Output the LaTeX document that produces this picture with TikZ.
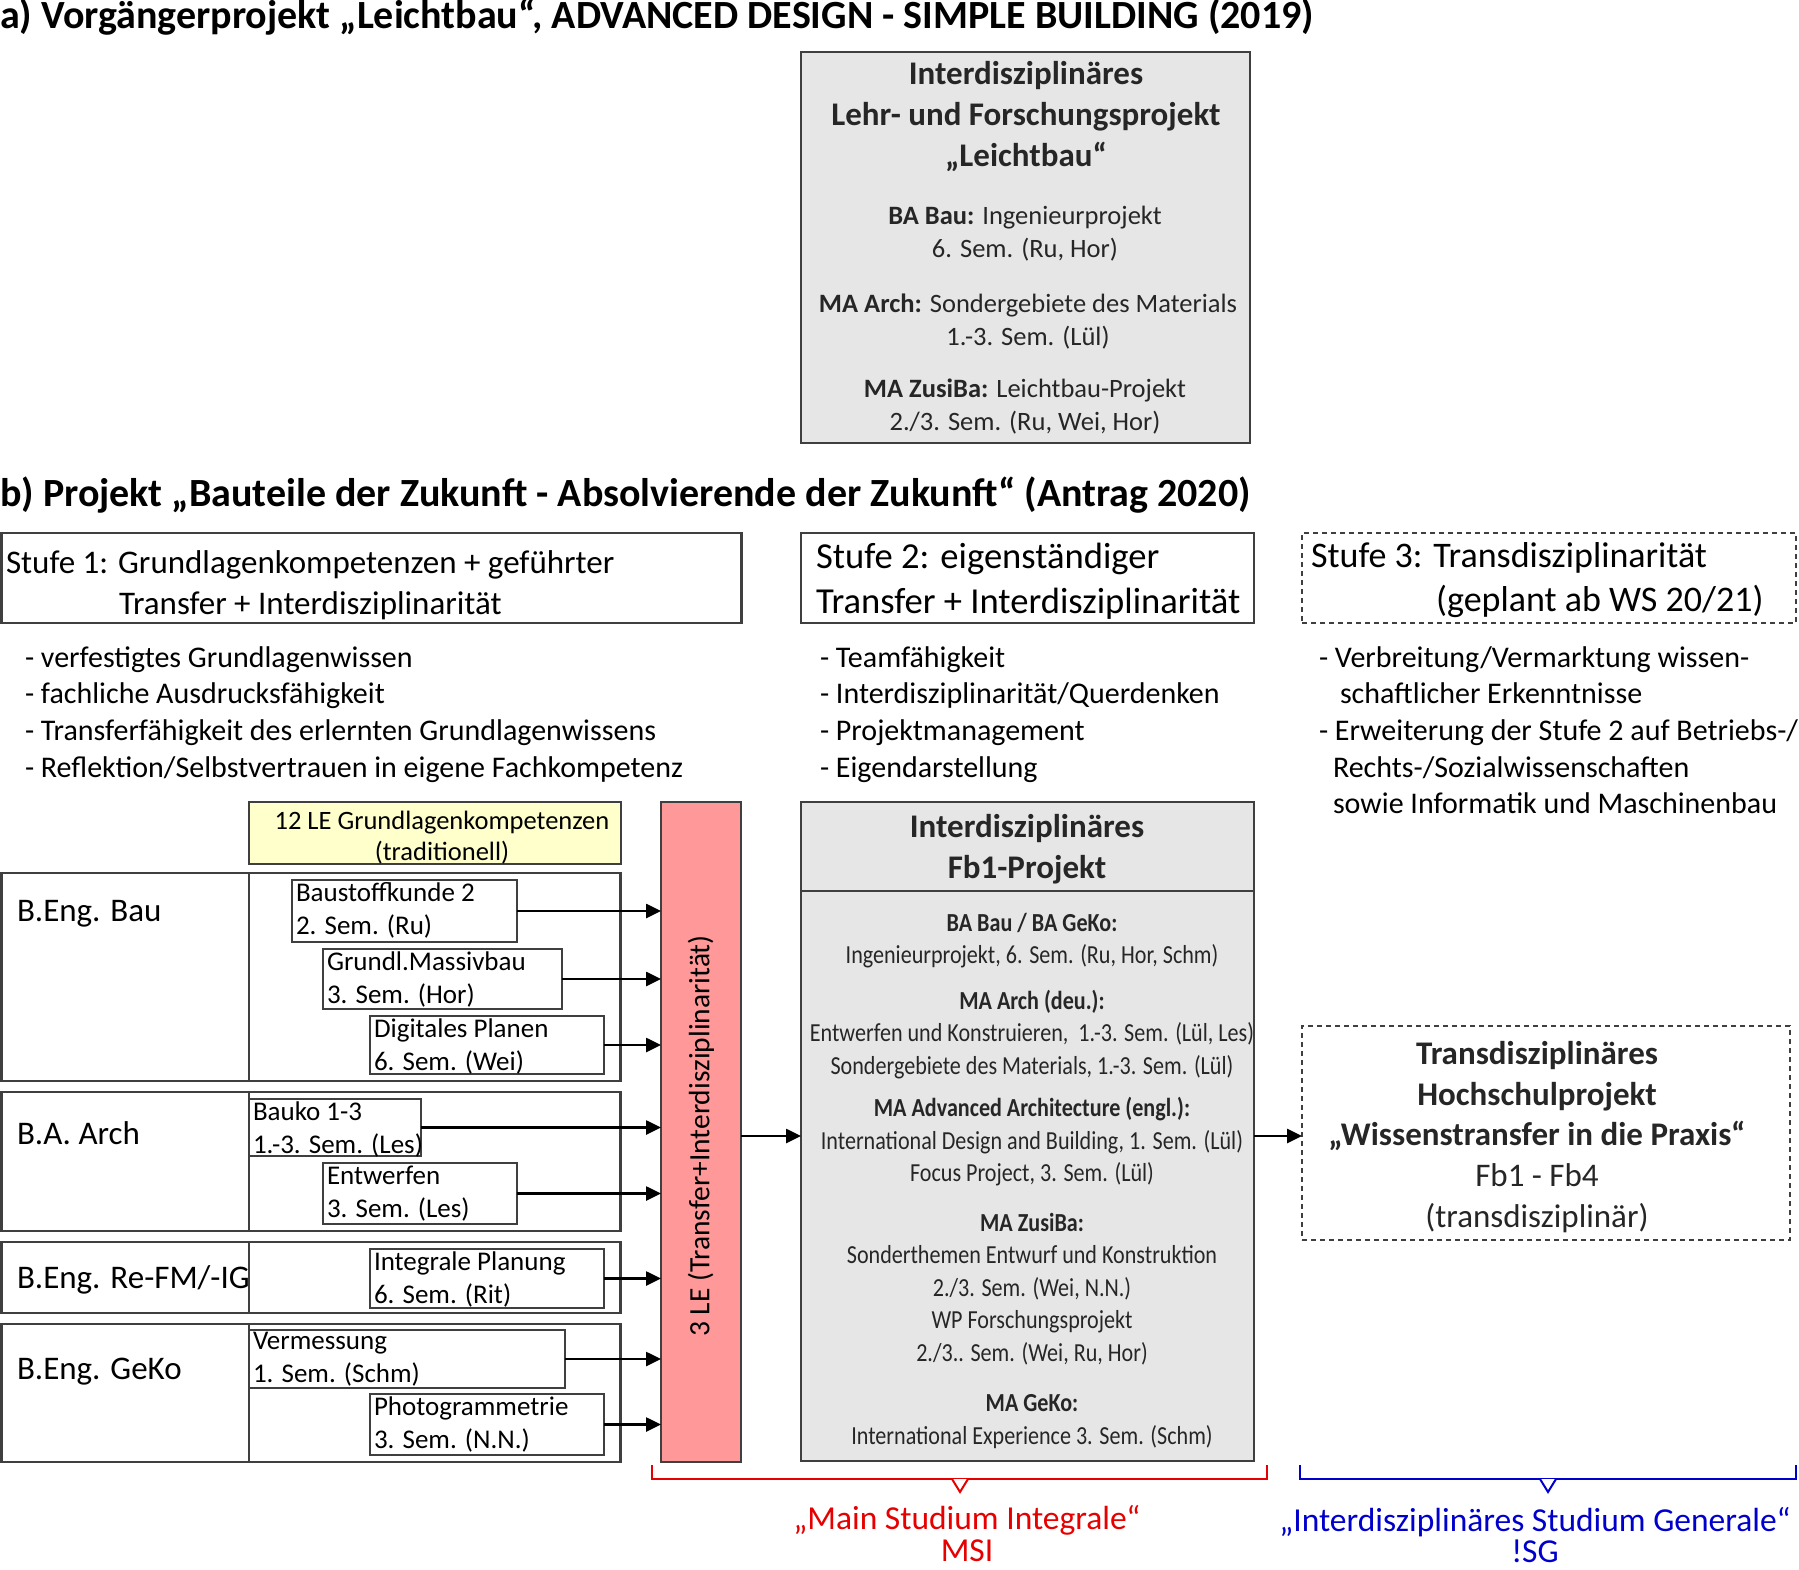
\documentclass[tikz,border=0pt]{standalone}
\usepackage{fontspec}
\setmainfont{Carlito}
\newfontfamily\condfont[FakeStretch=0.85]{Carlito}
\usetikzlibrary{arrows.meta}
\definecolor{bordc}{HTML}{3F3F3F}
\definecolor{grayfill}{HTML}{E6E6E6}
\definecolor{yellowfill}{HTML}{FFFFCC}
\definecolor{redfill}{HTML}{FF9999}
\definecolor{txtgray}{HTML}{262626}
\definecolor{msired}{HTML}{E60000}
\definecolor{isgblue}{HTML}{0000CC}
\newcommand\fs[2]{\fontsize{#1}{#2}\selectfont}
\begin{document}
\begin{tikzpicture}[x=1pt,y=-1pt,
  every node/.style={inner sep=0pt, outer sep=0pt},
  box/.style={draw=bordc, line width=2.8pt, anchor=north west},
  dbox/.style={draw=bordc, line width=2.6pt, dash pattern=on 5pt off 4pt, anchor=north west},
  cbox/.style={draw=bordc, line width=2.4pt, fill=white, anchor=north west},
  ctext/.style={font=\fs{27}{33}, align=left, anchor=north west, execute at begin node=\strut},
  blk/.style={align=center, anchor=north, execute at begin node=\strut},
  lblk/.style={align=left, anchor=north west, execute at begin node=\strut},
  arr/.style={line width=2.6pt, -{Triangle[length=15pt,width=14pt]}},
  brk/.style={line width=2.6pt}
]
\useasboundingbox (0,0) rectangle (1799,1570);

% ---------- a) ----------
\node[anchor=base west, font=\bfseries\fs{40}{48}] (ta) at (0,29)
  {a) Vorgängerprojekt „Leichtbau“, ADVANCED DESIGN - SIMPLE BUILDING (2019)};

\node[box, fill=grayfill, minimum width=449pt, minimum height=391pt] (lb) at (801,52) {};
\node[blk, font=\bfseries\fs{33}{41}, text=txtgray] (lbh) at (1026,61.2)
  {Interdisziplinäres\\Lehr- und Forschungsprojekt\\„Leichtbau“};
\node[blk, font=\fs{26.5}{33}, text=txtgray] (lb1) at (1025,206)
  {\textbf{BA Bau:} Ingenieurprojekt\\6. Sem. (Ru, Hor)};
\node[blk, font=\fs{26.5}{33}, text=txtgray] (lb2) at (1028,293.6)
  {\textbf{MA Arch:} Sondergebiete des Materials\\1.-3. Sem. (Lül)};
\node[blk, font=\fs{26.5}{33}, text=txtgray] (lb3) at (1025,378.6)
  {\textbf{MA ZusiBa:} Leichtbau-Projekt\\2./3. Sem. (Ru, Wei, Hor)};

% ---------- b) ----------
\node[anchor=base west, font=\bfseries\fs{40}{48}] (tb) at (0,506)
  {b) Projekt „Bauteile der Zukunft - Absolvierende der Zukunft“ (Antrag 2020)};

\node[box, minimum width=740pt, minimum height=90pt] (s1) at (1.5,533) {};
\node[lblk, font=\fs{33}{41}] (s1t) at (6,551)
  {Stufe 1: Grundlagenkompetenzen + geführter\\\hspace*{113pt}Transfer + Interdisziplinarität};
\node[box, minimum width=453pt, minimum height=90pt] (s2) at (801,533) {};
\node[lblk, font=\fs{36.6}{45}] (s2t) at (816,543.4)
  {Stufe 2: eigenständiger\\Transfer + Interdisziplinarität};
\node[dbox, minimum width=494pt, minimum height=90pt] (s3) at (1302,533) {};
\node[lblk, font=\fs{36}{44}] (s3t) at (1311,542.9)
  {Stufe 3: Transdisziplinarität\\\hspace*{125pt}(geplant ab WS 20/21)};

\node[lblk, font=\fs{30}{36.7}] (l1) at (25,646.2)
  {- verfestigtes Grundlagenwissen\\- fachliche Ausdrucksfähigkeit\\- Transferfähigkeit des erlernten Grundlagenwissens\\- Reflektion/Selbstvertrauen in eigene Fachkompetenz};
\node[lblk, font=\fs{30}{36.7}] (l2) at (820,646.2)
  {- Teamfähigkeit\\- Interdisziplinarität/Querdenken\\- Projektmanagement\\- Eigendarstellung};
\node[lblk, font=\fs{30}{36.7}] (l3) at (1319,646.2)
  {- Verbreitung/Vermarktung wissen-\\\hspace*{21pt}schaftlicher Erkenntnisse\\- Erweiterung der Stufe 2 auf Betriebs-/\\\hspace*{14pt}Rechts-/Sozialwissenschaften\\\hspace*{14pt}sowie Informatik und Maschinenbau};

% yellow
\node[box, fill=yellowfill, minimum width=372pt, minimum height=62pt] (yel) at (249,802) {};
\node[blk, font=\fs{26.5}{31}] (yelt) at (442,811)
  {12 LE Grundlagenkompetenzen\\(traditionell)};

% rows
\node[box, minimum width=619pt, minimum height=208pt] (r1) at (1.5,873) {};
\node[box, minimum width=619pt, minimum height=139pt] (r2) at (1.5,1092) {};
\node[box, minimum width=619pt, minimum height=71pt] (r3) at (1.5,1242) {};
\node[box, minimum width=619pt, minimum height=138pt] (r4) at (1.5,1324) {};
\foreach \r in {r1,r2,r3,r4}{
  \draw[draw=bordc, line width=2.8pt] (\r.north west -| 249,0) -- (\r.south west -| 249,0);
}
\node[anchor=base west, font=\fs{33}{40}] (r1t) at (17,921) {B.Eng. Bau};
\node[anchor=base west, font=\fs{33}{40}] (r2t) at (17,1144) {B.A. Arch};
\node[anchor=base west, font=\fs{33}{40}] (r3t) at (17,1288) {B.Eng. Re-FM/-IG};
\node[anchor=base west, font=\fs{33}{40}] (r4t) at (17,1379) {B.Eng. GeKo};

% course boxes
\node[cbox, minimum width=225pt, minimum height=62pt] (c1) at (292,880) {};
\node[cbox, minimum width=239pt, minimum height=60pt] (c2) at (323,949) {};
\node[cbox, minimum width=234pt, minimum height=58pt] (c3) at (370,1016) {};
\node[cbox, minimum width=172pt, minimum height=57pt] (c4) at (249,1099) {};
\node[cbox, minimum width=194pt, minimum height=61pt] (c5) at (323,1163) {};
\node[cbox, minimum width=234pt, minimum height=59pt] (c6) at (370,1249) {};
\node[cbox, minimum width=316pt, minimum height=58pt] (c7) at (249,1330) {};
\node[cbox, minimum width=234pt, minimum height=61pt] (c8) at (370,1394) {};
\node[ctext] (c1t) at ([xshift=4pt,yshift=-2.5pt]c1.north west) {Baustoffkunde 2\\2. Sem. (Ru)};
\node[ctext] (c2t) at ([xshift=4pt,yshift=-2.5pt]c2.north west) {Grundl.Massivbau\\3. Sem. (Hor)};
\node[ctext] (c3t) at ([xshift=4pt,yshift=-2.5pt]c3.north west) {Digitales Planen\\6. Sem. (Wei)};
\node[ctext] (c4t) at ([xshift=4pt,yshift=-2.5pt]c4.north west) {Bauko 1-3\\1.-3. Sem. (Les)};
\node[ctext] (c5t) at ([xshift=4pt,yshift=-2.5pt]c5.north west) {Entwerfen\\3. Sem. (Les)};
\node[ctext] (c6t) at ([xshift=4pt,yshift=-2.5pt]c6.north west) {Integrale Planung\\6. Sem. (Rit)};
\node[ctext] (c7t) at ([xshift=4pt,yshift=-2.5pt]c7.north west) {Vermessung\\1. Sem. (Schm)};
\node[ctext] (c8t) at ([xshift=4pt,yshift=-2.5pt]c8.north west) {Photogrammetrie\\3. Sem. (N.N.)};

% red box
\node[box, fill=redfill, minimum width=80pt, minimum height=660pt] (red) at (661,802) {};
\node[rotate=90, font=\fs{29.5}{35}] (redt) at (701,1136) {3 LE (Transfer+Interdisziplinarität)};

\foreach \c in {c1,c2,c3,c4,c5,c6,c7,c8}{
  \draw[arr] (\c.east) -- (\c.east -| red.west);
}

% Fb1 box
\node[box, fill=grayfill, minimum width=453pt, minimum height=659pt] (fb) at (801,802) {};
\draw[draw=bordc, line width=2.8pt] (fb.west |- 0,891) -- (fb.east |- 0,891);
\node[blk, font=\bfseries\fs{33}{41}, text=txtgray] (fbh) at (1027,814.2)
  {Interdisziplinäres\\Fb1-Projekt};
\node[blk, font=\condfont\fs{26}{32.5}, text=txtgray] (fbt) at (1032,912.8)
  {{\bfseries BA Bau / BA GeKo:}\\
   Ingenieurprojekt, 6. Sem. (Ru, Hor, Schm)\\[13pt]
   {\bfseries MA Arch (deu.):}\\
   Entwerfen und Konstruieren,\ \ 1.-3. Sem. (Lül, Les)\\
   Sondergebiete des Materials, 1.-3. Sem. (Lül)\\[10pt]
   {\bfseries MA Advanced Architecture (engl.):}\\
   International Design and Building, 1. Sem. (Lül)\\
   Focus Project, 3. Sem. (Lül)\\[17pt]
   {\bfseries MA ZusiBa:}\\
   Sonderthemen Entwurf und Konstruktion\\
   2./3. Sem. (Wei, N.N.)\\
   WP Forschungsprojekt\\
   2./3.. Sem. (Wei, Ru, Hor)\\[18pt]
   {\bfseries MA GeKo:}\\
   International Experience 3. Sem. (Schm)};

\draw[arr] (red.east |- 0,1136) -- (fb.west |- 0,1136);

% Trans box
\node[dbox, minimum width=488pt, minimum height=214pt] (tr) at (1302,1026) {};
\node[blk, font=\fs{33}{40.6}, text=txtgray] (trt) at (1537,1041.5)
  {\textbf{Transdisziplinäres}\\\textbf{Hochschulprojekt}\\\textbf{„Wissenstransfer in die Praxis“}\\Fb1 - Fb4\\(transdisziplinär)};
\draw[arr] (fb.east |- 0,1136) -- (tr.west |- 0,1136);

% brackets
\draw[brk, draw=msired] (652,1465) -- (652,1479) -- (1267,1479) -- (1267,1465);
\draw[brk, draw=msired, fill=white, line width=2pt] (952,1479) -- (960,1492) -- (968,1479);
\draw[brk, draw=isgblue] (1300,1465) -- (1300,1479) -- (1796,1479) -- (1796,1465);
\draw[brk, draw=isgblue, fill=white, line width=2pt] (1540,1479) -- (1548,1492) -- (1556,1479);

\node[align=center, anchor=south, font=\fs{33.5}{32}, text=msired] (msi) at (967,1562)
  {„Main Studium Integrale“\\MSI};
\node[align=center, anchor=south, font=\fs{33.5}{31}, text=isgblue] (isg) at (1535,1563)
  {„Interdisziplinäres Studium Generale“\\!SG};
\end{tikzpicture}
\end{document}
